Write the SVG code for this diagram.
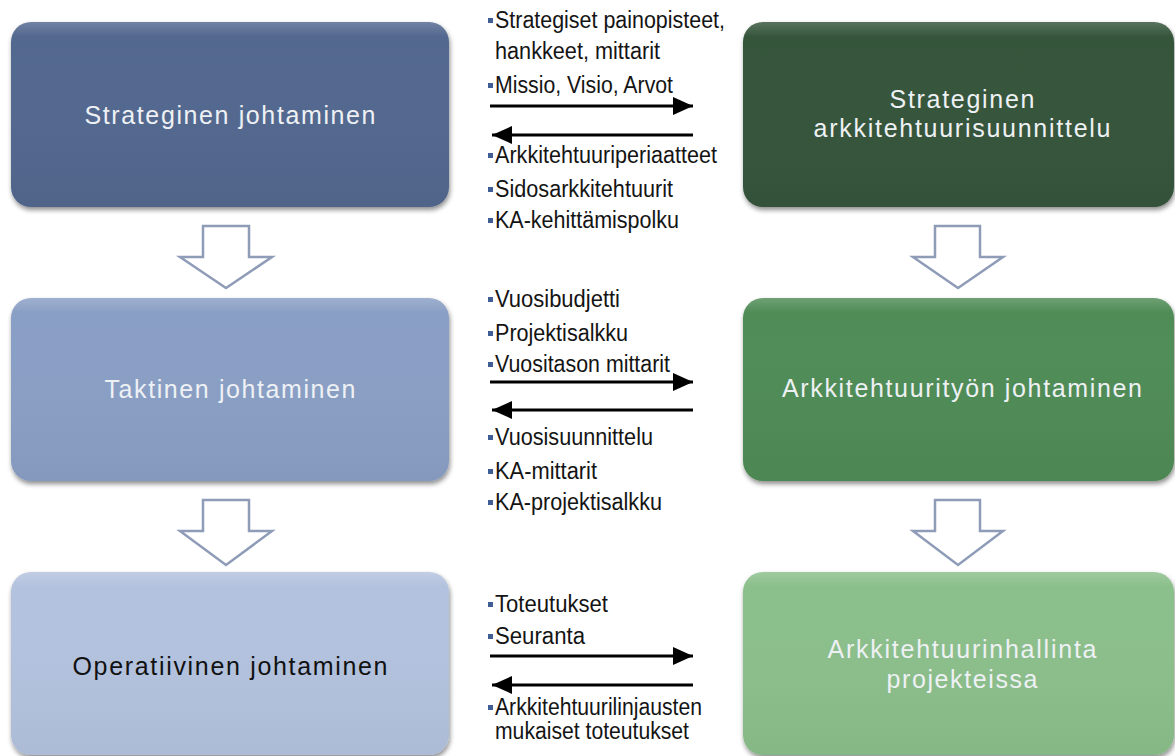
<svg xmlns="http://www.w3.org/2000/svg" width="1175" height="756" viewBox="0 0 1175 756">
<style>
.big{font-family:"Liberation Sans",Arial,sans-serif;font-size:25px;text-anchor:middle}
.lt{fill:#eef1f4}
.dk{fill:#111}
.mid{font-family:"Liberation Sans",Arial,sans-serif;font-size:23px;fill:#141414}
.bul{fill:#3f5e96}
.hollow{fill:#ffffff;stroke:#8f9cb8;stroke-width:2.5;stroke-linejoin:miter}
.conn{stroke:#000;stroke-width:3.2;fill:none}
</style>
<defs>
<filter id="sh" x="-5%" y="-5%" width="112%" height="115%">
<feGaussianBlur in="SourceAlpha" stdDeviation="2.5"/>
<feOffset dx="1" dy="3" result="b"/>
<feComponentTransfer><feFuncA type="linear" slope="0.45"/></feComponentTransfer>
<feMerge><feMergeNode/><feMergeNode in="SourceGraphic"/></feMerge>
</filter>
<linearGradient id="gl" x1="0" y1="0" x2="0" y2="1">
<stop offset="0" stop-color="#fff" stop-opacity="0.18"/>
<stop offset="0.08" stop-color="#fff" stop-opacity="0"/>
<stop offset="1" stop-color="#000" stop-opacity="0.04"/>
</linearGradient>
<marker id="ah" markerUnits="userSpaceOnUse" markerWidth="22" markerHeight="20" refX="20" refY="9" orient="auto">
<path d="M0,0 L20,9 L0,18 z" fill="#000"/>
</marker>
</defs>
<rect width="1175" height="756" fill="#ffffff"/>

<g id="node-strateginen-johtaminen">
<rect x="11" y="22" width="438" height="185" rx="20" fill="#53688f" filter="url(#sh)"/>
<rect x="11" y="22" width="438" height="185" rx="20" fill="url(#gl)"/>
<text class="big lt" x="230" y="124" textLength="291" lengthAdjust="spacing">Strateginen johtaminen</text>
</g>
<g id="node-taktinen-johtaminen">
<rect x="11" y="298" width="438" height="183" rx="20" fill="#8a9fc5" filter="url(#sh)"/>
<rect x="11" y="298" width="438" height="183" rx="20" fill="url(#gl)"/>
<text class="big lt" x="230" y="398" textLength="251" lengthAdjust="spacing">Taktinen johtaminen</text>
</g>
<g id="node-operatiivinen-johtaminen">
<rect x="11" y="572" width="438" height="183" rx="20" fill="#b3c2de" filter="url(#sh)"/>
<rect x="11" y="572" width="438" height="183" rx="20" fill="url(#gl)"/>
<text class="big dk" x="230" y="675" textLength="315" lengthAdjust="spacing">Operatiivinen johtaminen</text>
</g>
<g id="node-strateginen-arkkitehtuurisuunnittelu">
<rect x="743" y="22" width="431" height="185" rx="20" fill="#36553a" filter="url(#sh)"/>
<rect x="743" y="22" width="431" height="185" rx="20" fill="url(#gl)"/>
<text class="big lt" x="962" y="108" textLength="145" lengthAdjust="spacing">Strateginen</text>
<text class="big lt" x="962" y="137" textLength="297" lengthAdjust="spacing">arkkitehtuurisuunnittelu</text>
</g>
<g id="node-arkkitehtuurityon-johtaminen">
<rect x="743" y="298" width="431" height="183" rx="20" fill="#508c56" filter="url(#sh)"/>
<rect x="743" y="298" width="431" height="183" rx="20" fill="url(#gl)"/>
<text class="big lt" x="962" y="397" textLength="360" lengthAdjust="spacing">Arkkitehtuurityön johtaminen</text>
</g>
<g id="node-arkkitehtuurinhallinta">
<rect x="743" y="572" width="431" height="183" rx="20" fill="#8bbf8b" filter="url(#sh)"/>
<rect x="743" y="572" width="431" height="183" rx="20" fill="url(#gl)"/>
<text class="big lt" x="962" y="658" textLength="269" lengthAdjust="spacing">Arkkitehtuurinhallinta</text>
<text class="big lt" x="962" y="688" textLength="151" lengthAdjust="spacing">projekteissa</text>
</g>

<g id="connectors">
<path class="hollow" d="M203,226 L249,226 L249,257 L272,257 L226,288 L180,257 L203,257 Z"/>
<path class="hollow" d="M203,500 L249,500 L249,531 L272,531 L226,565 L180,531 L203,531 Z"/>
<path class="hollow" d="M935,226 L980,226 L980,257 L1003,257 L958,288 L913,257 L935,257 Z"/>
<path class="hollow" d="M935,500 L980,500 L980,531 L1003,531 L958,565 L913,531 L935,531 Z"/>

<line class="conn" x1="490" y1="106" x2="693" y2="106" marker-end="url(#ah)"/>
<line class="conn" x1="693" y1="135" x2="492" y2="135" marker-end="url(#ah)"/>
<line class="conn" x1="490" y1="382" x2="693" y2="382" marker-end="url(#ah)"/>
<line class="conn" x1="693" y1="410" x2="492" y2="410" marker-end="url(#ah)"/>
<line class="conn" x1="490" y1="656" x2="693" y2="656" marker-end="url(#ah)"/>
<line class="conn" x1="693" y1="685" x2="492" y2="685" marker-end="url(#ah)"/>
</g>

<g id="labels-row1">
<rect class="bul" x="488" y="18" width="5" height="5"/>
<text class="mid" x="495" y="28" textLength="230" lengthAdjust="spacingAndGlyphs">Strategiset painopisteet,</text>
<text class="mid" x="495" y="59" textLength="165" lengthAdjust="spacingAndGlyphs">hankkeet, mittarit</text>
<rect class="bul" x="488" y="83" width="5" height="5"/>
<text class="mid" x="495" y="93" textLength="178" lengthAdjust="spacingAndGlyphs">Missio, Visio, Arvot</text>
<rect class="bul" x="488" y="153" width="5" height="5"/>
<text class="mid" x="495" y="163" textLength="222" lengthAdjust="spacingAndGlyphs">Arkkitehtuuriperiaatteet</text>
<rect class="bul" x="488" y="187" width="5" height="5"/>
<text class="mid" x="495" y="197" textLength="178" lengthAdjust="spacingAndGlyphs">Sidosarkkitehtuurit</text>
<rect class="bul" x="488" y="218" width="5" height="5"/>
<text class="mid" x="495" y="228" textLength="184" lengthAdjust="spacingAndGlyphs">KA-kehittämispolku</text>
</g>
<g id="labels-row2">
<rect class="bul" x="488" y="297" width="5" height="5"/>
<text class="mid" x="495" y="307" textLength="125" lengthAdjust="spacingAndGlyphs">Vuosibudjetti</text>
<rect class="bul" x="488" y="331" width="5" height="5"/>
<text class="mid" x="495" y="341" textLength="133" lengthAdjust="spacingAndGlyphs">Projektisalkku</text>
<rect class="bul" x="488" y="362" width="5" height="5"/>
<text class="mid" x="495" y="372" textLength="175" lengthAdjust="spacingAndGlyphs">Vuositason mittarit</text>
<rect class="bul" x="488" y="435" width="5" height="5"/>
<text class="mid" x="495" y="445" textLength="158" lengthAdjust="spacingAndGlyphs">Vuosisuunnittelu</text>
<rect class="bul" x="488" y="469" width="5" height="5"/>
<text class="mid" x="495" y="479" textLength="102" lengthAdjust="spacingAndGlyphs">KA-mittarit</text>
<rect class="bul" x="488" y="500" width="5" height="5"/>
<text class="mid" x="495" y="510" textLength="167" lengthAdjust="spacingAndGlyphs">KA-projektisalkku</text>
</g>
<g id="labels-row3">
<rect class="bul" x="488" y="602" width="5" height="5"/>
<text class="mid" x="495" y="612" textLength="113" lengthAdjust="spacingAndGlyphs">Toteutukset</text>
<rect class="bul" x="488" y="634" width="5" height="5"/>
<text class="mid" x="495" y="644" textLength="90" lengthAdjust="spacingAndGlyphs">Seuranta</text>
<rect class="bul" x="488" y="705" width="5" height="5"/>
<text class="mid" x="495" y="715" textLength="207" lengthAdjust="spacingAndGlyphs">Arkkitehtuurilinjausten</text>
<text class="mid" x="495" y="739" textLength="194" lengthAdjust="spacingAndGlyphs">mukaiset toteutukset</text>
</g>
</svg>
